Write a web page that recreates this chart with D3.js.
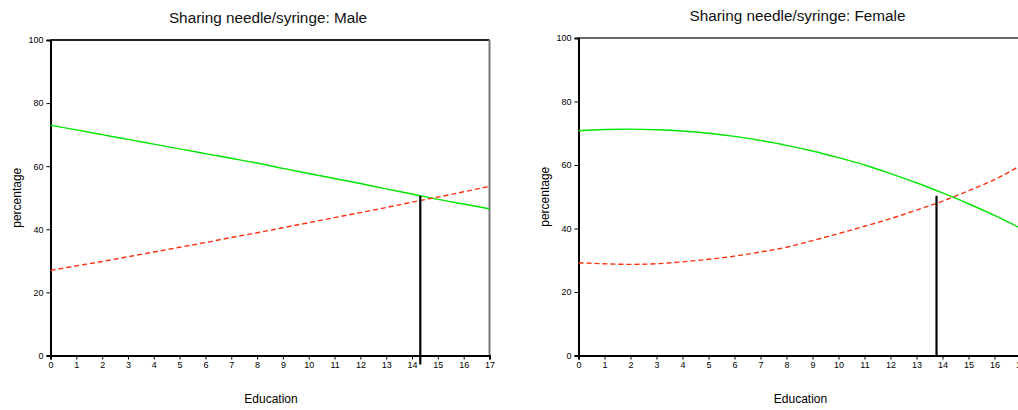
<!DOCTYPE html>
<html>
<head>
<meta charset="utf-8">
<script src="https://cdn.jsdelivr.net/npm/d3@7/dist/d3.min.js"></script>
<style>
  body { margin: 0; background: #fff; }
  svg { display: block; font-family: "Liberation Sans", Arial, sans-serif; }
  .tick text { font-size: 9px; fill: #000; }
  .title { font-size: 15.3px; fill: #111; }
  .axis-label { font-size: 12px; fill: #000; }
</style>
</head>
<body>
<div id="chart"></div>
<script>
// education years (x axis)
const education = [0, 1, 2, 3, 4, 5, 6, 7, 8, 9, 10, 11, 12, 13, 14, 15, 16, 17];
const xTicks = [0, 1, 2, 3, 4, 5, 6, 7, 8, 9, 10, 11, 12, 13, 14, 15, 16, 17];
const yTicks = [0, 20, 40, 60, 80, 100];

// male panel, percentage
const maleSolid  = [73.0, 71.5, 70.0, 68.5, 67.0, 65.5, 64.0, 62.5, 61.0, 59.3, 57.7, 56.1, 54.5, 52.8, 51.2, 49.5, 48.0, 46.5];
const maleDashed = [27.0, 28.4, 29.8, 31.3, 32.8, 34.3, 35.8, 37.4, 38.9, 40.5, 42.1, 43.7, 45.3, 46.9, 48.6, 50.2, 51.9, 53.6];
const maleCut = [14.32, 50.6]; // [education, percentage]

// female panel, percentage
const femaleSolid  = [70.8, 71.2, 71.3, 71.1, 70.7, 70.0, 69.0, 67.7, 66.2, 64.4, 62.3, 60.0, 57.3, 54.4, 51.2, 47.8, 44.1, 40.1];
const femaleDashed = [29.2, 28.9, 28.7, 28.9, 29.5, 30.3, 31.3, 32.6, 34.1, 36.2, 38.4, 40.7, 43.1, 45.8, 48.6, 51.9, 55.4, 59.8];
const femaleCut = [13.77, 50.3];

const titles = ['Sharing needle/syringe: Male', 'Sharing needle/syringe: Female'];

const svg = d3.select('#chart')
    .append('svg')
    .attr('width', 1018)
    .attr('height', 410);

const drawPanel = (opts) => {
    const { left, top, width, bottom, solid, dashed, cut, title, cutBelow, topColor, rightColor } = opts;

    const x = d3.scaleLinear().domain([0, 17]).range([left, left + width]);
    const y = d3.scaleLinear().domain([0, 100]).range([bottom, top]);

    const g = svg.append('g');

    // title
    g.append('text')
        .attr('class', 'title')
        .attr('x', left + width / 2 - 2)
        .attr('y', top - 17)
        .attr('text-anchor', 'middle')
        .text(title);

    // top and right frame
    g.append('line')
        .attr('x1', left).attr('x2', left + width)
        .attr('y1', top).attr('y2', top)
        .attr('stroke', topColor).attr('stroke-width', 2);
    g.append('line')
        .attr('x1', left + width).attr('x2', left + width)
        .attr('y1', top).attr('y2', bottom)
        .attr('stroke', rightColor).attr('stroke-width', 2);

    // axes
    const xAxis = g.append('g')
        .attr('transform', `translate(0,${bottom})`)
        .call(d3.axisBottom(x).tickValues(xTicks).tickSize(4).tickPadding(2).tickFormat(d3.format('d')));
    const yAxis = g.append('g')
        .attr('transform', `translate(${left},0)`)
        .call(d3.axisLeft(y).tickValues(yTicks).tickSize(4).tickPadding(3));
    [xAxis, yAxis].forEach(a => {
        a.select('.domain').attr('stroke', '#000').attr('stroke-width', 2);
        a.selectAll('.tick line').attr('stroke', '#000');
        a.attr('font-family', null).attr('font-size', null);
    });

    // axis labels
    g.append('text')
        .attr('class', 'axis-label')
        .attr('x', left + width / 2 + 1)
        .attr('y', bottom + 47)
        .attr('text-anchor', 'middle')
        .text('Education');
    g.append('text')
        .attr('class', 'axis-label')
        .attr('transform', `translate(${left - 30},${(top + bottom) / 2}) rotate(-90)`)
        .attr('text-anchor', 'middle')
        .text('percentage');

    const line = d3.line()
        .x((d, i) => x(education[i]))
        .y(d => y(d))
        .curve(d3.curveMonotoneX);

    g.append('path')
        .datum(solid)
        .attr('d', line)
        .attr('fill', 'none')
        .attr('stroke', '#00e600')
        .attr('stroke-width', 1.4);

    g.append('path')
        .datum(dashed)
        .attr('d', line)
        .attr('fill', 'none')
        .attr('stroke', '#ff3010')
        .attr('stroke-width', 1.4)
        .attr('stroke-dasharray', '5,3');

    // vertical marker where the curves meet
    g.append('line')
        .attr('x1', x(cut[0])).attr('x2', x(cut[0]))
        .attr('y1', y(cut[1]))
        .attr('y2', bottom + cutBelow)
        .attr('stroke', '#000')
        .attr('stroke-width', 2.2);
};

drawPanel({
    left: 50.5, top: 40, width: 439, bottom: 355.5,
    solid: maleSolid, dashed: maleDashed, cut: maleCut,
    title: titles[0], cutBelow: 9, topColor: '#222', rightColor: '#777'
});

drawPanel({
    left: 578.5, top: 38, width: 442, bottom: 355.5,
    solid: femaleSolid, dashed: femaleDashed, cut: femaleCut,
    title: titles[1], cutBelow: 0, topColor: '#666', rightColor: '#ccc'
});
</script>
</body>
</html>
